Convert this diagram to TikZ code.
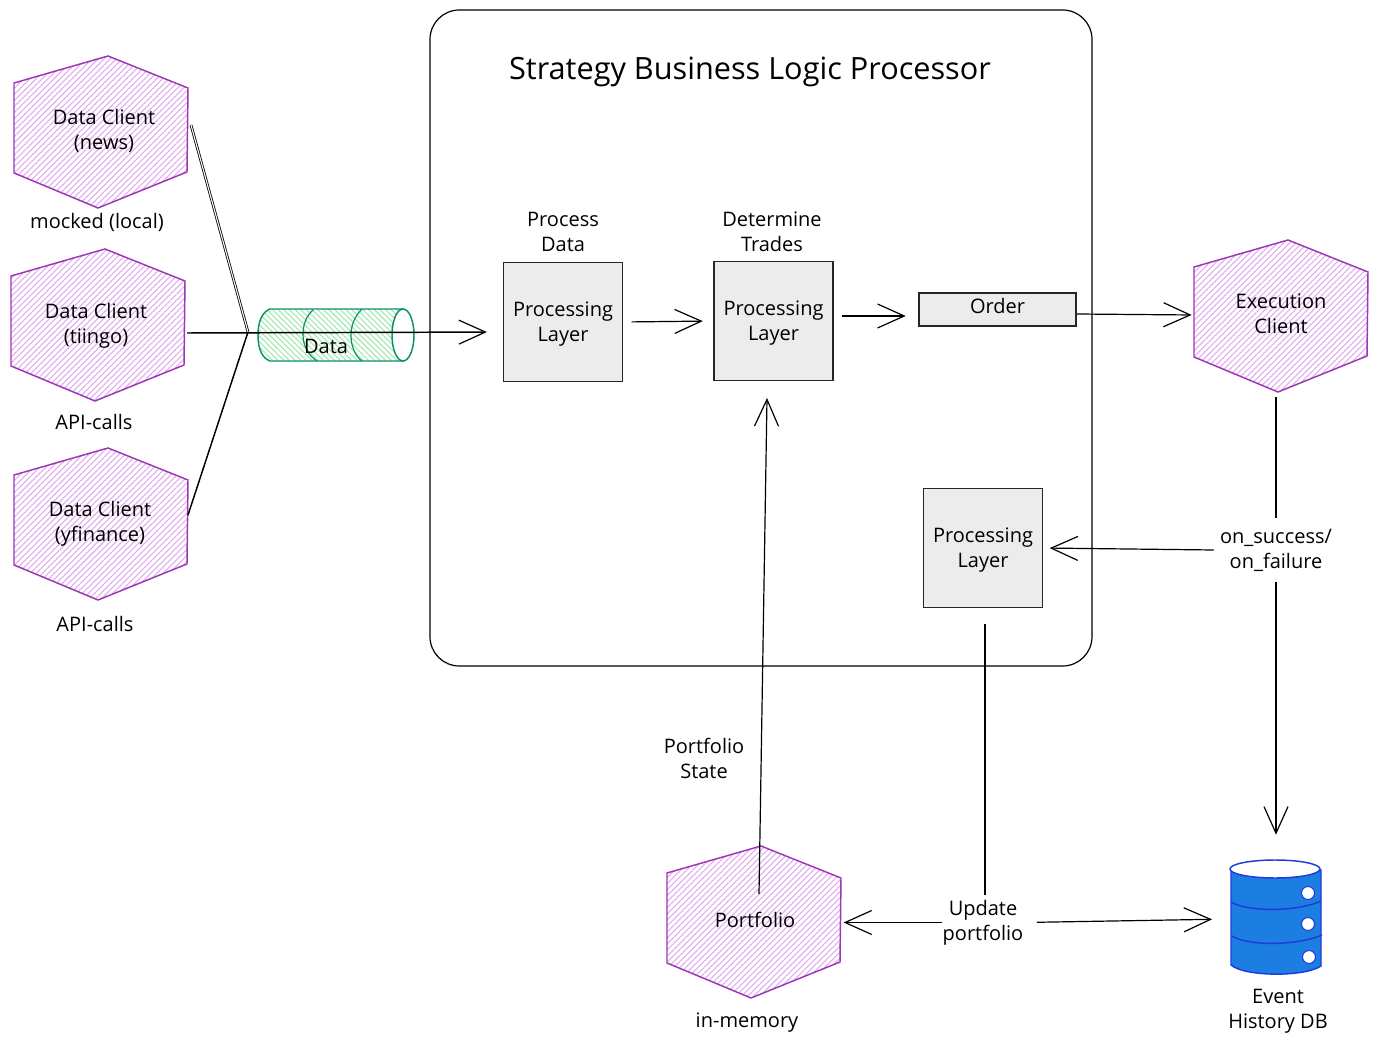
\documentclass[tikz,border=0pt]{standalone}
\usepackage{fontspec}
\setmainfont{Open Sans}
\usetikzlibrary{arrows.meta,patterns.meta}
\definecolor{hexpurple}{RGB}{156, 54, 181}
\definecolor{hexhatch}{RGB}{224, 170, 238}
\definecolor{pipegreen}{RGB}{9, 146, 104}
\definecolor{pipehatch}{RGB}{160, 232, 172}
\definecolor{boxgrey}{RGB}{236, 236, 236}
\definecolor{dbblue}{RGB}{28, 126, 224}
\definecolor{dbline}{RGB}{30, 60, 220}

\tikzset{
  sketchtext/.style={font=\fontsize{15}{18.75}\selectfont, align=center},
  hexnode/.style={sketchtext, minimum width=130.5pt, minimum height=114pt, inner sep=0pt},
  hexshape/.pic={
    \filldraw[draw=hexpurple, line width=1.1pt,
      pattern={Lines[angle=45,distance=3.2pt,line width=0.8pt]}, pattern color=hexhatch]
      (-87,-49) -- (7,-76) -- (87,-44) -- (86,40) -- (-3,76) -- (-87,41) -- cycle;
  },
  layerbox/.style={sketchtext, draw=black!85, fill=boxgrey, line width=1.1pt,
    minimum width=89pt, minimum height=89.5pt, inner sep=0pt, text depth=0pt,
    execute at begin node={\rule{0pt}{18pt}}},
  link/.style={line width=0.9pt},
  arrowlink/.style={link, -{Straight Barb[length=20pt,width=18pt,line width=0.9pt]}}
}

\begin{document}
\begin{tikzpicture}[x=0.75pt, y=-0.75pt]
  \useasboundingbox (0,0) rectangle (1378,1044);

  \draw[line width=0.9pt, rounded corners=22pt] (430,10) rectangle (1092,666);
  \node[sketchtext, font=\fontsize{23}{27}\selectfont] (title) at (750,72) {Strategy Business Logic Processor};

  % clients and portfolio
  \pic at (101,132) {hexshape};
  \pic at (98,325) {hexshape};
  \pic at (101,524) {hexshape};
  \pic at (1281,316) {hexshape};
  \pic at (754,922) {hexshape};

  \node[hexnode] (news) at (104,131) {Data Client\\(news)};
  \node[hexnode] (tiingo) at (96,325.5) {Data Client\\(tiingo)};
  \node[hexnode] (yfinance) at (100,524) {Data Client\\(yfinance)};
  \node[hexnode] (exec) at (1281,314) {Execution\\Client};
  \node[hexnode] (portfolio) at (755,920) {Portfolio};

  \node[sketchtext] (newsnote) at (97,222) {mocked (local)};
  \node[sketchtext] (tiingonote) at (94,422) {API-calls};
  \node[sketchtext] (yfinancenote) at (95,624) {API-calls};
  \node[sketchtext] (portfolionote) at (747,1023) {in-memory};

  % data pipe
  \filldraw[draw=pipegreen, line width=1.1pt,
    pattern={Lines[angle=-45,distance=3pt,line width=0.8pt]}, pattern color=pipehatch]
    (270,309) -- (403,309) -- (403,361) -- (270,361)
    .. controls (262,358) and (258,349) .. (258,335)
    .. controls (258,322) and (262,312) .. (270,309) -- cycle;
  \draw[draw=pipegreen, line width=0.9pt]
    (313,310) .. controls (306,316) and (303,325) .. (303,335)
    .. controls (303,346) and (309,356) .. (317,361);
  \draw[draw=pipegreen, line width=0.9pt]
    (362,309) .. controls (355,316) and (351,325) .. (351,335)
    .. controls (351,346) and (355,356) .. (362,361);
  \filldraw[draw=pipegreen, fill=white, line width=1.1pt] (403,335) ellipse (11 and 26);
  \node[sketchtext] (data) at (326,346) {Data};

  % processor layers
  \node[layerbox] (process) at (563,322) {Processing\\Layer};
  \node[layerbox] (determine) at (773.5,321) {Processing\\Layer};
  \node[layerbox] (update) at (983,548) {Processing\\Layer};
  \node[sketchtext, draw=black!85, fill=boxgrey, line width=1.1pt, minimum width=118pt,
    minimum height=24.5pt, inner sep=0pt, text depth=6pt] (order) at (997.5,309.5) {Order};

  \node[sketchtext] (processnote) at (563,232) {Process\\Data};
  \node[sketchtext] (determinenote) at (772,232) {Determine\\Trades};
  \node[sketchtext] (statenote) at (704,758) {Portfolio\\State};

  % event store
  \node[minimum width=67.5pt, minimum height=86pt, inner sep=0pt] (db) at (1276,919) {};
  \filldraw[draw=dbline, fill=dbblue, line width=1.1pt]
    (1231,870) -- (1231,965) .. controls (1245,977) and (1305,977) .. (1321,966) -- (1321,870) -- cycle;
  \filldraw[draw=dbline, fill=white, line width=1.1pt] (1275,869) ellipse (45 and 9);
  \draw[dbline, line width=1.1pt] (1231,902) .. controls (1250,913) and (1300,911) .. (1321,901);
  \draw[dbline, line width=1.1pt] (1232,936) .. controls (1250,947) and (1300,945) .. (1322,935);
  \filldraw[draw=dbline, fill=white, line width=0.8pt] (1308,893) circle (6.5);
  \filldraw[draw=dbline, fill=white, line width=0.8pt] (1308,924) circle (6.5);
  \filldraw[draw=dbline, fill=white, line width=0.8pt] (1309,957) circle (6.5);
  \node[sketchtext] (dbnote) at (1278,1011) {Event\\History DB};

  % connectors
  \coordinate (hub) at (248,332);
  \coordinate (orderin) at (919,316);
  \coordinate (orderout) at (1077,314);
  \coordinate (execin) at (1193,315);
  \coordinate (statefoot) at (759,894);
  \coordinate (statetip) at (767,398);

  \draw[link, double, line width=0.6pt, double distance=0.8pt] (191,125) -- (hub);
  \draw[link, line width=1.1pt] (188,515) -- (hub);
  \draw[arrowlink, line width=1.1pt, shorten >=12pt] (187,333) -- (hub -| process.west);

  \draw[arrowlink, shorten <=6.5pt, shorten >=8pt] (process.east) -- (determine.west);
  \draw[arrowlink, shorten <=6.5pt, shorten >=10pt] (determine.east |- orderin) -- (orderin);
  \draw[arrowlink, shorten >=1pt] (orderout) -- (execin);

  \node[sketchtext, minimum width=93pt, minimum height=48pt, inner sep=0pt] (status) at (1276,550) {on\_success/\\on\_failure};
  \draw[link, shorten <=5pt] (status |- exec.south) -- (status.north);
  \draw[arrowlink, shorten >=5pt] (status.west) -- (update.east);
  \draw[arrowlink, shorten >=20pt] (status.south) -- (db.north);

  \node[sketchtext, minimum width=60pt, minimum height=40.5pt, inner sep=0pt] (updatenote) at (983,922.5) {Update\\portfolio};
  \draw[link, shorten <=12pt] ([xshift=1.5pt]update.south) -- ([xshift=1.5pt]updatenote.north);
  \draw[arrowlink, shorten >=1pt] (updatenote.west) -- (portfolio.east |- updatenote.west);
  \draw[arrowlink, shorten <=10pt, shorten >=14pt] (updatenote.east) -- (db.west);

  \draw[arrowlink] (statefoot) -- (statetip);
\end{tikzpicture}
\end{document}
